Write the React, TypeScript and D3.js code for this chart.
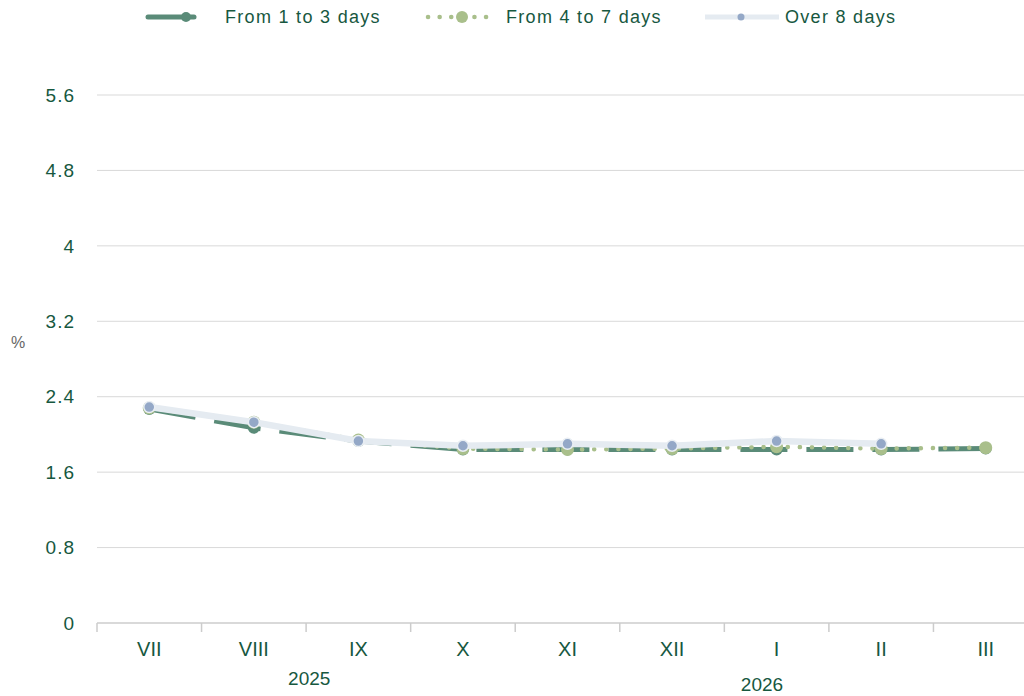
import React from 'react'
import * as d3 from 'd3'

const months = ['VII', 'VIII', 'IX', 'X', 'XI', 'XII', 'I', 'II', 'III']
const yTicks = [0, 0.8, 1.6, 2.4, 3.2, 4, 4.8, 5.6]
const years = [
  { label: '2025', month: 'IX', offset: 0.03, dy: 0 },
  { label: '2026', month: 'I', offset: 0.36, dy: 6 },
]

const short: (number | null)[] = [2.27, 2.07, 1.93, 1.84, 1.84, 1.84, 1.84, 1.84, 1.85]
const medium: (number | null)[] = [2.28, 2.13, 1.94, 1.85, 1.84, 1.85, 1.87, 1.85, 1.86]
const long: (number | null)[] = [2.29, 2.13, 1.93, 1.88, 1.9, 1.88, 1.93, 1.9, null]

const W = 1024
const H = 696
const left = 97
const right = 1038
const top = 95
const bottom = 623

const textColor = '#17583f'
const darkGreen = '#5a8b78'
const lightGreen = '#a9bf8b'
const paleLine = '#e5ebf1'
const blueDot = '#94a8c7'

export default function App() {
  const x = d3.scaleBand<string>().domain(months).range([left, right])
  const y = d3.scaleLinear().domain([0, 5.6]).range([bottom, top])
  const cx = (m: string) => (x(m) || 0) + x.bandwidth() / 2

  const line = d3
    .line<number | null>()
    .defined((d) => d != null)
    .x((_, i) => cx(months[i]))
    .y((d) => y(d as number))

  const boundaries = months.map((m) => x(m) || 0)

  return (
    <svg width={W} height={H} style={{ position: 'absolute', left: 0, top: 0, fontFamily: 'Liberation Sans, Arial, sans-serif' }}>
      <rect width={W} height={H} fill="#fff" />
      {/* grid */}
      {yTicks.map((t) => (
        <g key={t}>
          {t > 0 && <line x1={left} x2={W} y1={y(t)} y2={y(t)} stroke="#d9d9d9" strokeWidth={1} />}
          <text x={75} y={y(t)} dy="0.35em" textAnchor="end" fontSize={19} letterSpacing={1} fill={textColor}>
            {t}
          </text>
        </g>
      ))}
      <text x={18} y={342} dy="0.35em" textAnchor="middle" fontSize={16} fill="#666">%</text>

      {/* x axis */}
      <line x1={left} x2={W} y1={bottom} y2={bottom} stroke="#ccc" strokeWidth={1.5} />
      {boundaries.map((b, i) => (
        <line key={i} x1={b} x2={b} y1={bottom} y2={bottom + 9} stroke="#ccc" strokeWidth={1.5} />
      ))}
      {months.map((m) => (
        <text key={m} x={cx(m)} y={649} dy="0.35em" textAnchor="middle" fontSize={20} fill={textColor}>
          {m}
        </text>
      ))}
      {years.map((yr) => (
        <text
          key={yr.label}
          x={(x(yr.month) || 0) + x.bandwidth() * yr.offset}
          y={678 + yr.dy}
          dy="0.35em"
          textAnchor="middle"
          fontSize={19}
          fill={textColor}
        >
          {yr.label}
        </text>
      ))}

      {/* series 1 */}
      <path d={line(short) || ''} fill="none" stroke={darkGreen} strokeWidth={5} strokeDasharray="47,19" />
      {short.map((d, i) =>
        d == null ? null : <circle key={i} cx={cx(months[i])} cy={y(d)} r={6} fill={darkGreen} />
      )}
      {/* series 2 */}
      <path d={line(medium) || ''} fill="none" stroke={lightGreen} strokeWidth={4.5} strokeDasharray="0.1,12" strokeLinecap="round" />
      {medium.map((d, i) =>
        d == null ? null : <circle key={i} cx={cx(months[i])} cy={y(d)} r={6.5} fill={lightGreen} />
      )}
      {/* series 3 */}
      <path d={line(long) || ''} fill="none" stroke={paleLine} strokeWidth={6.5} />
      {long.map((d, i) =>
        d == null ? null : (
          <circle key={i} cx={cx(months[i])} cy={y(d)} r={5.5} fill={blueDot} stroke="#e9eef3" strokeWidth={1.5} />
        )
      )}

      {/* legend */}
      <g>
        <line x1={148} x2={194} y1={17} y2={17} stroke={darkGreen} strokeWidth={5} strokeLinecap="round" />
        <circle cx={186} cy={17} r={5} fill={darkGreen} />
        <text x={225} y={17} dy="0.35em" fontSize={18} letterSpacing={1.3} fill={textColor}>From 1 to 3 days</text>

        <line x1={428} x2={494} y1={17} y2={17} stroke={lightGreen} strokeWidth={4.5} strokeDasharray="0.1,11.5" strokeLinecap="round" />
        <circle cx={462} cy={17} r={6} fill={lightGreen} />
        <text x={506} y={17} dy="0.35em" fontSize={18} letterSpacing={1.3} fill={textColor}>From 4 to 7 days</text>

        <line x1={705} x2={779} y1={17} y2={17} stroke={paleLine} strokeWidth={5} />
        <circle cx={741} cy={17} r={3.5} fill={blueDot} />
        <text x={785} y={17} dy="0.35em" fontSize={18} letterSpacing={1.3} fill={textColor}>Over 8 days</text>
      </g>
    </svg>
  )
}
